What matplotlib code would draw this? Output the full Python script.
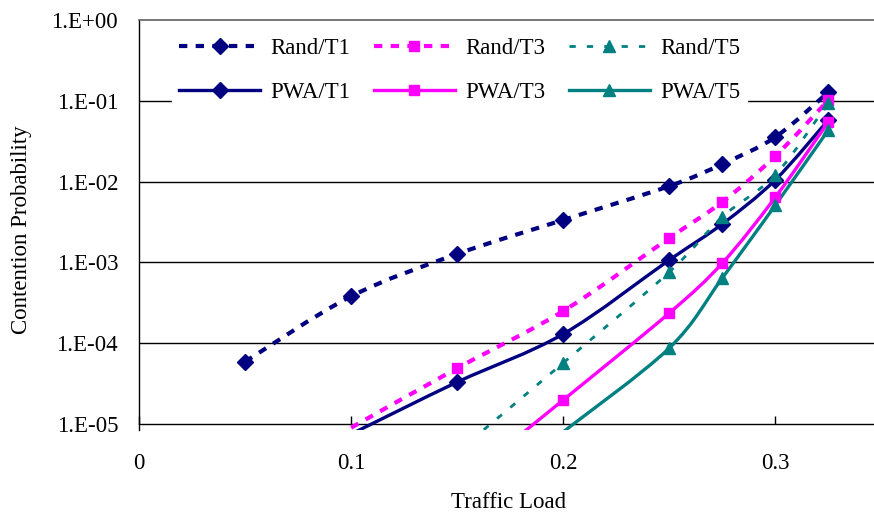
import numpy as np
import matplotlib
matplotlib.use('Agg')
import matplotlib.pyplot as plt
from matplotlib.path import Path
from matplotlib.patches import PathPatch
from matplotlib.lines import Line2D

plt.rcParams['font.family'] = ['Liberation Serif', 'DejaVu Serif']
plt.rcParams['lines.scale_dashes'] = False

# ---- data ----
load_rand_t1 = [0.05, 0.1, 0.15, 0.2, 0.25, 0.275, 0.3, 0.325]
rand_t1 = [5.9e-5, 3.8e-4, 1.27e-3, 3.35e-3, 8.8e-3, 1.65e-2, 3.56e-2, 1.28e-1]
load_rand_t3 = [0.1, 0.15, 0.2, 0.25, 0.275, 0.3, 0.325]
rand_t3 = [9.0e-6, 4.9e-5, 2.5e-4, 2.0e-3, 5.6e-3, 2.07e-2, 1.02e-1]
load_rand_t5 = [0.15, 0.2, 0.25, 0.275, 0.3, 0.325]
rand_t5 = [4.5e-6, 5.7e-5, 7.6e-4, 3.65e-3, 1.21e-2, 9.4e-2]
load_pwa_t1 = [0.1, 0.15, 0.2, 0.25, 0.275, 0.3, 0.325]
pwa_t1 = [7.5e-6, 3.3e-5, 1.3e-4, 1.07e-3, 2.99e-3, 1.05e-2, 5.8e-2]
load_pwa_t3 = [0.15, 0.2, 0.25, 0.275, 0.3, 0.325]
pwa_t3 = [1.7e-6, 1.98e-5, 2.36e-4, 9.8e-4, 6.4e-3, 5.47e-2]
load_pwa_t5 = [0.2, 0.25, 0.275, 0.3, 0.325]
pwa_t5 = [8.0e-6, 8.7e-5, 6.4e-4, 5.1e-3, 4.35e-2]

x_ticks = [0, 0.1, 0.2, 0.3]
x_tick_labels = ['0', '0.1', '0.2', '0.3']
y_ticks = [1e-5, 1e-4, 1e-3, 1e-2, 1e-1, 1e0]
y_tick_labels = ['1.E-05', '1.E-04', '1.E-03', '1.E-02', '1.E-01', '1.E+00']

NAVY = '#000080'
MAGENTA = '#FF00FF'
TEAL = '#008080'

series = [
    # label, x, y, color, marker, msize, lw, dashes
    ('Rand/T1', load_rand_t1, rand_t1, NAVY, 'D', 8.5, 3.0, (6, 6)),
    ('PWA/T1', load_pwa_t1, pwa_t1, NAVY, 'D', 8.5, 2.4, None),
    ('Rand/T3', load_rand_t3, rand_t3, MAGENTA, 's', 7.5, 3.0, (6, 6)),
    ('PWA/T3', load_pwa_t3, pwa_t3, MAGENTA, 's', 7.5, 2.4, None),
    ('Rand/T5', load_rand_t5, rand_t5, TEAL, '^', 8.5, 2.0, (4.5, 8)),
    ('PWA/T5', load_pwa_t5, pwa_t5, TEAL, '^', 8.5, 2.4, None),
]


def smooth_path(x, y):
    pts = np.column_stack([np.asarray(x, float), np.log10(np.asarray(y, float))])
    n = len(pts)
    verts = [pts[0]]
    codes = [Path.MOVETO]
    for i in range(n - 1):
        p0 = pts[i - 1] if i > 0 else pts[i]
        p1 = pts[i]
        p2 = pts[i + 1]
        p3 = pts[i + 2] if i + 2 < n else pts[i + 1]
        c1 = p1 + (p2 - p0) / 6.0
        c2 = p2 - (p3 - p1) / 6.0
        verts += [c1, c2, p2]
        codes += [Path.CURVE4] * 3
    verts = np.array(verts)
    verts[:, 1] = 10 ** verts[:, 1]
    return Path(verts, codes)


W, H = 874, 518
FS = 16.5
fig = plt.figure(figsize=(W / 100, H / 100), dpi=100)
ymin_log = -5.08
ax_left = 139 / W
ax_top = 20
px_per_decade = 80.8
ax_h_px = -ymin_log * px_per_decade
ax_bottom = 1 - (ax_top + ax_h_px) / H
px_per_unit = 2121.0
xmax = 0.35
ax = fig.add_axes([ax_left, ax_bottom, xmax * px_per_unit / W, ax_h_px / H])
ax.set_yscale('log')
ax.set_xlim(0, xmax)
ax.set_ylim(10 ** ymin_log, 1)

handles = []
for label, xs, ys, col, mk, ms, lw, dsh in series:
    ls = '-' if dsh is None else (0, dsh)
    patch = PathPatch(smooth_path(xs, ys), facecolor='none', edgecolor=col,
                      lw=lw, linestyle=ls, capstyle='butt', joinstyle='round', zorder=3)
    ax.add_patch(patch)
    xv = [a for a, b in zip(xs, ys) if b >= 1e-5]
    yv = [b for b in ys if b >= 1e-5]
    ax.plot(xv, yv, linestyle='none', marker=mk, markersize=ms, color=col,
            markeredgecolor=col, zorder=4)
    handles.append(Line2D([], [], color=col, lw=lw, linestyle=ls, marker=mk,
                          markersize=ms, markeredgecolor=col, dash_capstyle='butt'))

# grid lines at decades
for yt in y_ticks[1:-1]:
    ax.axhline(yt, color='black', lw=1.0, zorder=1)

ax.spines['right'].set_visible(False)
ax.spines['top'].set_color('#606060')
ax.spines['top'].set_linewidth(1.2)
ax.spines['left'].set_color('black')
ax.spines['bottom'].set_color('black')
ax.spines['left'].set_linewidth(1.0)
ax.spines['bottom'].set_linewidth(1.0)
ax.spines['bottom'].set_position(('data', 1e-5))

ax.set_xticks(x_ticks)
ax.set_xticklabels(x_tick_labels)
ax.set_yticks(y_ticks)
ax.set_yticklabels(y_tick_labels)
ax.yaxis.set_minor_locator(matplotlib.ticker.NullLocator())
ax.tick_params(axis='x', direction='in', length=6, width=1, pad=21, labelsize=FS)
ax.tick_params(axis='y', length=0, pad=15, labelsize=FS)

fig.text(509 / W, 1 - 503 / H, 'Traffic Load', ha='center', va='center', fontsize=FS)
fig.text(22 / W, 1 - 230 / H, 'Contention Probability', ha='center', va='center',
         rotation=90, fontsize=FS)

leg = ax.legend(handles, [s[0] for s in series], ncol=3, loc='upper left',
                bbox_to_anchor=(172 / W, 1 - 31 / H), bbox_transform=fig.transFigure,
                frameon=True, fancybox=False, edgecolor='white', facecolor='white',
                framealpha=1.0, fontsize=FS, handlelength=3.55, handletextpad=0.44,
                columnspacing=1.02, labelspacing=1.0, borderpad=0.3, borderaxespad=0)
leg.set_zorder(5)

fig.savefig('out.png', dpi=100)
